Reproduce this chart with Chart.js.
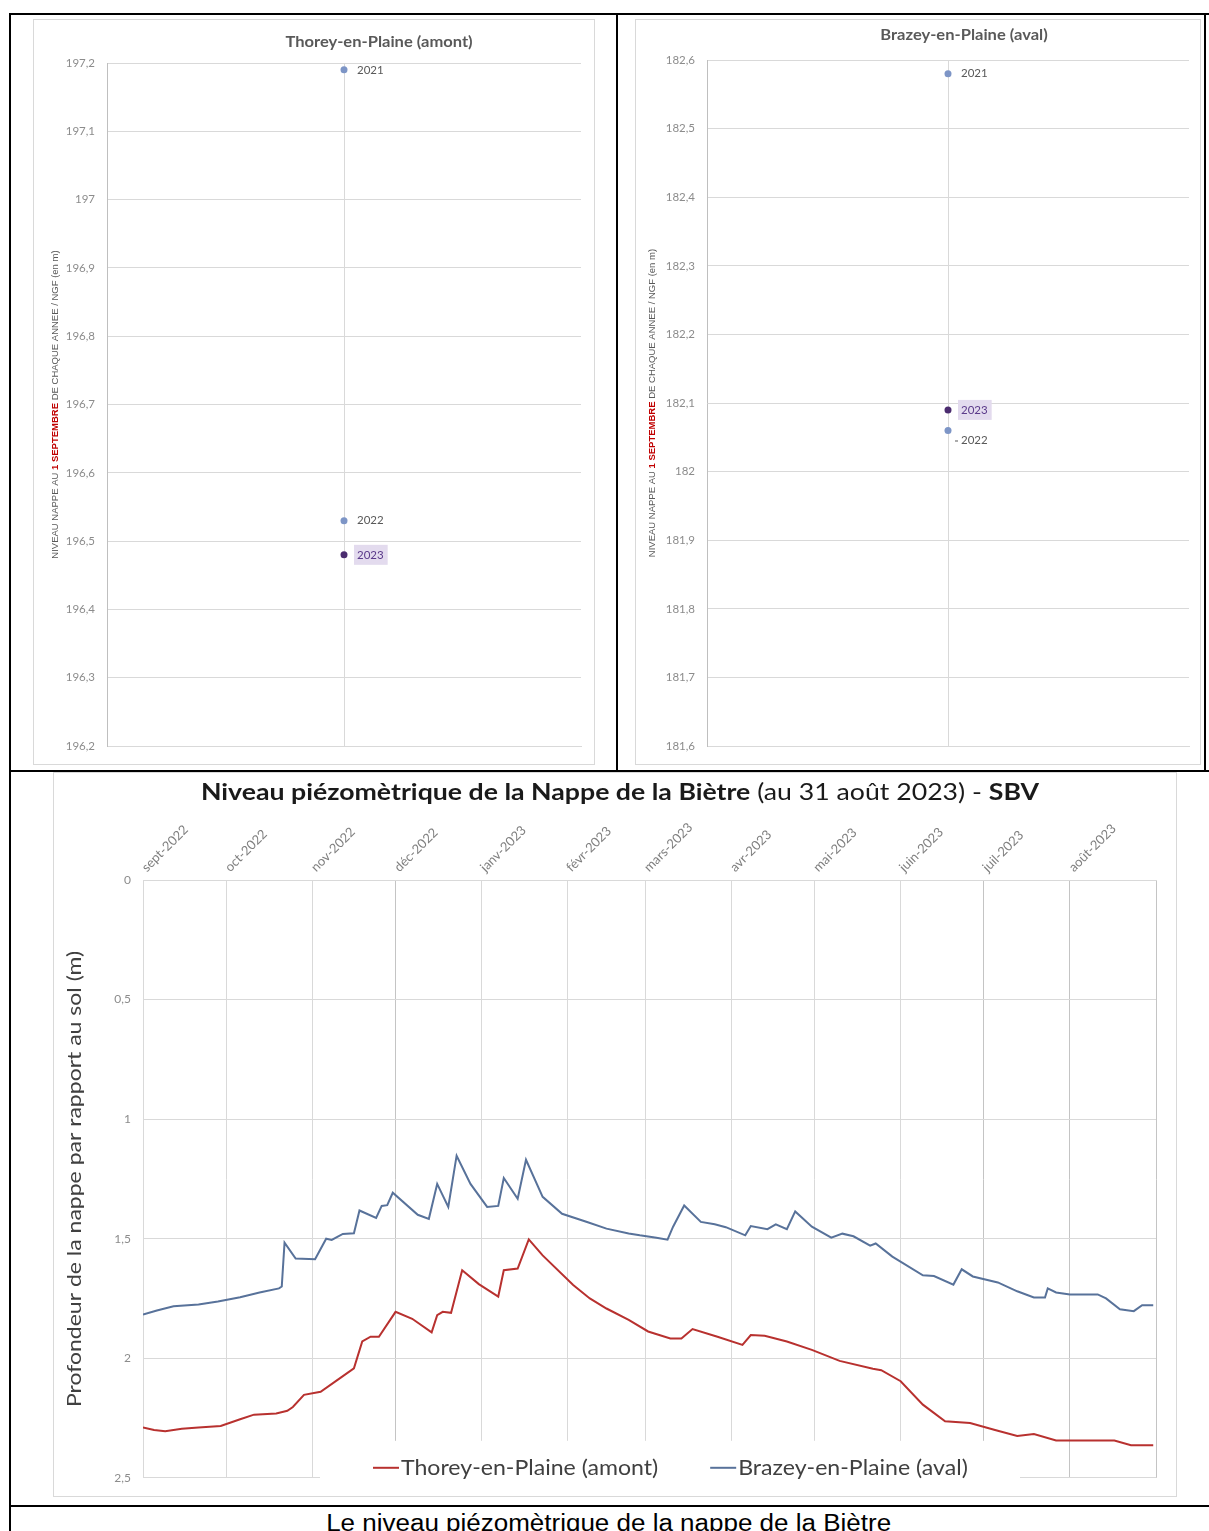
<!DOCTYPE html>
<html lang="fr">
<head>
<meta charset="utf-8">
<title>Niveau piézomètrique de la nappe de la Biètre</title>
<script src="https://cdn.jsdelivr.net/npm/chart.js@4.4.1/dist/chart.umd.min.js"></script>
<style>
  html, body { margin: 0; padding: 0; background: #fff; }
  body { width: 1209px; height: 1531px; position: relative; overflow: hidden; }
  .rule { position: absolute; background: #000; }
  .box { position: absolute; outline: 1px solid #d9d9d9; outline-offset: -1px; }
  #caption {
    position: absolute; left: 9px; width: 1200px; top: 1510px;
    text-align: center; color: #000; white-space: nowrap;
    font: 23px "Liberation Sans", Arial, sans-serif;
    transform: scaleX(1.13); transform-origin: 603px 0;
  }
</style>
</head>
<body>

<div class="rule" style="left:9px;top:13px;width:1200px;height:2px"></div>
<div class="rule" style="left:9px;top:13px;width:2px;height:1518px"></div>
<div class="rule" style="left:616px;top:13px;width:2px;height:758px"></div>
<div class="rule" style="left:1204px;top:13px;width:2px;height:758px"></div>
<div class="rule" style="left:9px;top:770px;width:1200px;height:2px"></div>
<div class="rule" style="left:9px;top:1505px;width:1200px;height:2px"></div>

<div class="box" style="left:33px;top:19px;width:562px;height:746px"><canvas id="thoreyChart"></canvas></div>
<div class="box" style="left:635px;top:19px;width:566px;height:746px"><canvas id="brazeyChart"></canvas></div>
<div class="box" style="left:53px;top:772px;width:1124px;height:725px"><canvas id="nappeChart"></canvas></div>

<div id="caption">Le niveau piézomètrique de la nappe de la Biètre</div>

<script>
// niveau au 1er septembre (m NGF)
const years = ['2021', '2022', '2023'];
const thoreyLevels = [197.19, 196.53, 196.48];
const brazeyLevels = [182.58, 182.06, 182.09];

// suivi journalier sept. 2022 -> août 2023 (jour depuis le 1er sept. 2022, profondeur en m)
const monthStartDays = [0, 30, 61, 91, 122, 153, 181, 212, 242, 273, 303, 334, 365];
const monthLabels = ['sept-2022', 'oct-2022', 'nov-2022', 'déc-2022', 'janv-2023', 'févr-2023',
  'mars-2023', 'avr-2023', 'mai-2023', 'juin-2023', 'juil-2023', 'août-2023'];

const thoreyDays = [0, 4, 8, 14, 20, 28, 35, 40, 48, 52, 54, 58, 64, 71, 76, 79, 82, 85, 91, 97,
  104, 106, 108, 111, 115, 121, 128, 130, 135, 139, 144, 155, 161, 167, 175, 182, 190, 194, 198,
  207, 216, 219, 224, 232, 241, 251, 263, 266, 273, 281, 289, 298, 307, 315, 321, 329, 343, 350,
  356, 364];
const thoreyDepth = [2.29, 2.30, 2.305, 2.295, 2.29, 2.283, 2.255, 2.236, 2.231, 2.22, 2.204, 2.153,
  2.14, 2.083, 2.042, 1.93, 1.91, 1.91, 1.806, 1.835, 1.892, 1.82, 1.806, 1.81, 1.632, 1.69, 1.742,
  1.632, 1.625, 1.503, 1.57, 1.694, 1.75, 1.792, 1.84, 1.888, 1.917, 1.917, 1.878, 1.91, 1.944,
  1.903, 1.906, 1.93, 1.965, 2.011, 2.044, 2.05, 2.096, 2.194, 2.264, 2.271, 2.30, 2.325, 2.317,
  2.344, 2.344, 2.344, 2.364, 2.364];

const brazeyDays = [0, 5, 11, 20, 27, 35, 42, 49, 50, 51, 55, 62, 66, 68, 72, 76, 78, 84, 86, 88,
  90, 99, 103, 106, 110, 113, 118, 124, 128, 130, 135, 138, 144, 151, 160, 167, 175, 179, 185, 189,
  191, 195, 201, 206, 210, 217, 219, 225, 228, 232, 235, 241, 248, 252, 256, 262, 264, 270, 281,
  285, 292, 295, 299, 308, 315, 321, 325, 326, 329, 334, 344, 347, 352, 357, 360, 364];
const brazeyDepth = [1.817, 1.80, 1.783, 1.775, 1.763, 1.745, 1.725, 1.708, 1.70, 1.517, 1.583,
  1.586, 1.50, 1.505, 1.48, 1.477, 1.382, 1.413, 1.363, 1.36, 1.308, 1.40, 1.417, 1.271, 1.367,
  1.153, 1.271, 1.367, 1.363, 1.246, 1.333, 1.17, 1.325, 1.396, 1.43, 1.458, 1.478, 1.486, 1.496,
  1.504, 1.45, 1.361, 1.43, 1.44, 1.452, 1.486, 1.447, 1.46, 1.44, 1.46, 1.386, 1.45, 1.496, 1.479,
  1.49, 1.529, 1.52, 1.575, 1.653, 1.656, 1.692, 1.628, 1.658, 1.683, 1.72, 1.746, 1.746, 1.708,
  1.725, 1.733, 1.733, 1.75, 1.795, 1.803, 1.778, 1.778];

const yearColors = ['#7d95c6', '#7d95c6', '#4b2c6f'];
const gray = '#8c8c8c';
const gridGray = '#d9d9d9';

function fr(v) {
  return String(Number(Number(v).toFixed(2))).replace('.', ',');
}

// texte en plusieurs morceaux (gras / couleur), centré, éventuellement vertical et élargi
function drawParts(ctx, parts, x, y, vertical, stretch) {
  ctx.save();
  ctx.translate(x, y);
  if (vertical) ctx.rotate(-Math.PI / 2);
  ctx.scale(stretch || 1, 1);
  let total = 0;
  parts.forEach(p => { ctx.font = p.font; total += ctx.measureText(p.text).width; });
  let cx = -total / 2;
  ctx.textAlign = 'left';
  ctx.textBaseline = 'middle';
  parts.forEach(p => {
    ctx.font = p.font;
    ctx.fillStyle = p.color;
    ctx.fillText(p.text, cx, 0);
    cx += ctx.measureText(p.text).width;
  });
  ctx.restore();
}

const headings = {
  id: 'headings',
  afterDraw(chart, args, opts) {
    const ctx = chart.ctx;
    const area = chart.chartArea;
    if (opts.title) {
      const tx = opts.titleX != null ? opts.titleX : (area.left + area.right) / 2;
      drawParts(ctx, opts.title, tx, opts.titleY, false, opts.titleStretch);
    }
    if (opts.axis) {
      drawParts(ctx, opts.axis, opts.axisX, (area.top + area.bottom) / 2, true, opts.axisStretch);
    }
  }
};

// étiquettes des années à côté des points
const yearLabels = {
  id: 'yearLabels',
  afterDatasetsDraw(chart, args, opts) {
    if (!opts.enabled) return;
    const ctx = chart.ctx;
    ctx.save();
    ctx.font = '11.5px Lato, "Open Sans", sans-serif';
    ctx.textBaseline = 'middle';
    chart.data.datasets.forEach((ds, i) => {
      const pt = chart.getDatasetMeta(i).data[0];
      const dy = (opts.shiftY && opts.shiftY[i]) || 0;
      const x = pt.x + 13;
      const y = pt.y + dy;
      const w = ctx.measureText(ds.label).width;
      if (i === opts.highlight) {
        ctx.fillStyle = '#e3dbee';
        ctx.fillRect(x - 3, y - 10, w + 7, 20);
        ctx.fillStyle = '#5b3a8a';
      } else {
        ctx.fillStyle = '#595959';
      }
      if (dy) {
        ctx.fillRect(x - 6, y, 3, 1);
      }
      ctx.fillText(ds.label, x, y);
    });
    ctx.restore();
  }
};

// légende dans la zone de tracé, sur fond blanc
const insideLegend = {
  id: 'insideLegend',
  beforeDatasetsDraw(chart, args, opts) {
    if (!opts.enabled) return;
    const ctx = chart.ctx;
    const area = chart.chartArea;
    const s = opts.stretch || 1;
    ctx.save();
    ctx.fillStyle = '#fff';
    ctx.fillRect(area.left + opts.boxLeft, area.bottom - 37, opts.boxWidth, 60);
    ctx.font = '21px Lato, "Open Sans", sans-serif';
    ctx.textBaseline = 'middle';
    let x = area.left + opts.start;
    const y = area.bottom - 10;
    chart.data.datasets.forEach(ds => {
      ctx.strokeStyle = ds.borderColor;
      ctx.lineWidth = 2;
      ctx.beginPath();
      ctx.moveTo(x, y);
      ctx.lineTo(x + 26, y);
      ctx.stroke();
      ctx.save();
      ctx.translate(x + 28, y);
      ctx.scale(s, 1);
      ctx.fillStyle = '#404040';
      ctx.fillText(ds.label, 0, 0);
      ctx.restore();
      x += 28 + ctx.measureText(ds.label).width * s + opts.gap;
    });
    ctx.restore();
  }
};

Chart.register(headings, yearLabels, insideLegend);

const axisParts = [
  { text: 'NIVEAU NAPPE AU ', font: '9.5px "Liberation Sans", sans-serif', color: '#595959' },
  { text: '1 SEPTEMBRE', font: 'bold 9.5px "Liberation Sans", sans-serif', color: '#c00000' },
  { text: ' DE CHAQUE ANNEE / NGF (en m)', font: '9.5px "Liberation Sans", sans-serif', color: '#595959' }
];

function makeLevelChart(id, title, levels, min, max, layout) {
  const ctx = document.getElementById(id).getContext('2d');
  return new Chart(ctx, {
    type: 'line',
    data: {
      labels: ['1er septembre'],
      datasets: years.map((yr, i) => ({
        label: yr,
        data: [levels[i]],
        showLine: false,
        pointRadius: 3.5,
        pointBackgroundColor: yearColors[i],
        pointBorderColor: yearColors[i],
        pointBorderWidth: 0
      }))
    },
    options: {
      responsive: true,
      maintainAspectRatio: false,
      animation: false,
      layout: { padding: layout.padding },
      scales: {
        x: {
          type: 'category',
          offset: true,
          ticks: { display: false },
          grid: { color: gridGray, drawTicks: false },
          border: { color: gridGray },
          afterFit: s => { s.height = 0; }
        },
        y: {
          min: min,
          max: max,
          ticks: {
            stepSize: 0.1,
            color: gray,
            padding: 12,
            font: { family: 'Lato', size: 11.5 },
            callback: v => fr(v)
          },
          grid: { color: gridGray, drawTicks: false },
          border: { color: '#bfbfbf' },
          afterFit: s => { s.width = layout.axisWidth; }
        }
      },
      plugins: {
        legend: { display: false },
        tooltip: { enabled: false },
        headings: {
          title: [{ text: title, font: 'bold 14.5px Lato, sans-serif', color: '#595959' }],
          titleX: layout.titleX,
          titleY: layout.titleY,
          titleStretch: 1.14,
          axis: axisParts,
          axisX: layout.axisX
        },
        yearLabels: { enabled: true, highlight: 2, shiftY: layout.shiftY },
        insideLegend: { enabled: false }
      }
    }
  });
}

makeLevelChart('thoreyChart', 'Thorey-en-Plaine (amont)', thoreyLevels, 196.2, 197.2, {
  padding: { top: 44, right: 14, bottom: 14, left: 0 },
  axisWidth: 74, titleX: 346, titleY: 23, axisX: 22, shiftY: [0, 0, 0]
});
makeLevelChart('brazeyChart', 'Brazey-en-Plaine (aval)', brazeyLevels, 181.6, 182.6, {
  padding: { top: 41, right: 12, bottom: 10, left: 0 },
  axisWidth: 72, titleX: 329, titleY: 16, axisX: 17, shiftY: [0, 10, 0]
});

const toPoints = (days, vals) => days.map((d, i) => ({ x: d, y: vals[i] }));
const darkGrid = [3, 10, 11, 12];

new Chart(document.getElementById('nappeChart').getContext('2d'), {
  type: 'line',
  data: {
    datasets: [
      {
        label: 'Thorey-en-Plaine (amont)',
        data: toPoints(thoreyDays, thoreyDepth),
        borderColor: '#b8312f',
        borderWidth: 2,
        pointRadius: 0,
        tension: 0
      },
      {
        label: 'Brazey-en-Plaine (aval)',
        data: toPoints(brazeyDays, brazeyDepth),
        borderColor: '#58729a',
        borderWidth: 2,
        pointRadius: 0,
        tension: 0
      }
    ]
  },
  options: {
    responsive: true,
    maintainAspectRatio: false,
    animation: false,
    layout: { padding: { top: 0, right: 21, bottom: 17, left: 0 } },
    scales: {
      x: {
        type: 'linear',
        position: 'top',
        min: 0,
        max: 365,
        afterBuildTicks: s => { s.ticks = monthStartDays.map(v => ({ value: v })); },
        afterFit: s => { s.height = 108; },
        ticks: {
          autoSkip: false,
          minRotation: 45,
          maxRotation: 45,
          padding: 5,
          labelOffset: 12,
          color: '#7f7f7f',
          font: { family: 'Lato', size: 13 },
          callback: (v, i) => monthLabels[i] || ''
        },
        grid: {
          drawTicks: false,
          color: c => darkGrid.includes(c.index) ? '#c4c4c4' : gridGray
        },
        border: { color: gridGray }
      },
      y: {
        reverse: true,
        min: 0,
        max: 2.5,
        afterFit: s => { s.width = 90; },
        ticks: {
          stepSize: 0.5,
          color: gray,
          padding: 12,
          font: { family: 'Lato', size: 12 },
          callback: v => fr(v)
        },
        grid: { color: gridGray, drawTicks: false },
        border: { color: gridGray }
      }
    },
    plugins: {
      legend: { display: false },
      tooltip: { enabled: false },
      headings: {
        title: [
          { text: 'Niveau piézomètrique de la Nappe de la Biètre', font: 'bold 23px Lato, sans-serif', color: '#1a1a1a' },
          { text: ' (au 31 août 2023) - ', font: '23px Lato, sans-serif', color: '#1a1a1a' },
          { text: 'SBV', font: 'bold 23px Lato, sans-serif', color: '#1a1a1a' }
        ],
        titleX: 567,
        titleY: 21,
        titleStretch: 1.16,
        axis: [{ text: 'Profondeur de la nappe par rapport au sol (m)', font: '20px Lato, sans-serif', color: '#404040' }],
        axisX: 22,
        axisStretch: 1.15
      },
      yearLabels: { enabled: false },
      insideLegend: { enabled: true, boxLeft: 177, boxWidth: 700, start: 230, gap: 52, stretch: 1.1 }
    }
  }
});
</script>
</body>
</html>
